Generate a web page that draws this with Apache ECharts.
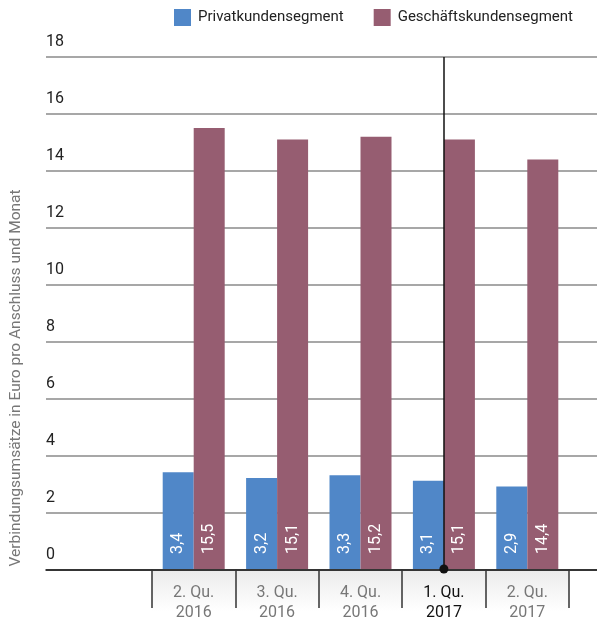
<!DOCTYPE html>
<html lang="de">
<head>
<meta charset="UTF-8">
<title>Verbindungsumsätze</title>
<script src="https://cdn.jsdelivr.net/npm/echarts@6/dist/echarts.min.js"></script>
<style>
  html, body { margin: 0; padding: 0; background: #fff; }
  #chart { width: 597px; height: 623px; }
</style>
</head>
<body>
<div id="chart"></div>
<script>
// Daten
var quartale = ['2. Qu.\n2016', '3. Qu.\n2016', '4. Qu.\n2016', '1. Qu.\n2017', '2. Qu.\n2017'];
var privatkunden = [3.4, 3.2, 3.3, 3.1, 2.9];
var geschaeftskunden = [15.5, 15.1, 15.2, 15.1, 14.4];
var markiert = '1. Qu.\n2017';

var schrift = 'Roboto, sans-serif';
var blau = '#5087c8';
var lila = '#965d71';

var chart = echarts.init(document.getElementById('chart'));

function wertLabel(p) {
  return String(p.value).replace('.', ',');
}

var barLabel = {
  show: true,
  position: 'insideBottom',
  rotate: 90,
  align: 'left',
  verticalAlign: 'middle',
  distance: 15,
  color: '#fff',
  fontFamily: schrift,
  fontSize: 16,
  formatter: wertLabel
};

chart.setOption({
  animation: false,
  textStyle: { fontFamily: schrift },
  legend: {
    data: ['Privatkundensegment', 'Geschäftskundensegment'],
    top: 4,
    left: 169,
    itemWidth: 17,
    itemHeight: 17,
    itemGap: 30,
    icon: 'rect',
    textStyle: { fontSize: 15, color: '#222', fontFamily: schrift, padding: [0, 0, 0, 2] }
  },
  graphic: [
    {
      type: 'rect',
      shape: { x: 152, y: 571, width: 417, height: 40 },
      style: {
        fill: new echarts.graphic.LinearGradient(0, 0, 0, 1, [
          { offset: 0, color: '#ececec' },
          { offset: 1, color: '#ffffff' }
        ])
      },
      z: -1
    },
    {
      type: 'text',
      x: 16,
      y: 378,
      rotation: Math.PI / 2,
      style: {
        text: 'Verbindungsumsätze in Euro pro Anschluss und Monat',
        fontFamily: schrift,
        fontSize: 15.5,
        fill: '#777',
        align: 'center',
        verticalAlign: 'middle'
      }
    }
  ],
  grid: [
    { left: 46, right: 0, top: 57, bottom: 53 },
    { left: 152, right: 28, top: 57, bottom: 53 }
  ],
  xAxis: [
    {
      type: 'value', gridIndex: 0, min: 0, max: 1,
      axisLine: { show: true, onZero: false, lineStyle: { color: '#111', width: 1.5 } },
      axisTick: { show: false }, axisLabel: { show: false }, splitLine: { show: false }
    },
    {
      type: 'category', gridIndex: 1, data: quartale,
      axisLine: { show: false },
      axisTick: { show: true, length: 39, lineStyle: { color: '#333', width: 1.5 } },
      axisLabel: {
        interval: 0,
        margin: 14,
        fontSize: 16,
        lineHeight: 20,
        color: '#777',
        formatter: function (v) {
          var stil = v === markiert ? 'hl' : 'n';
          return v.split('\n').map(function (z) { return '{' + stil + '|' + z + '}'; }).join('\n');
        },
        rich: {
          n: { color: '#777', fontSize: 16, lineHeight: 20, fontFamily: schrift },
          hl: { color: '#111', fontSize: 16, lineHeight: 20, fontFamily: schrift }
        }
      }
    }
  ],
  yAxis: [
    {
      type: 'value', gridIndex: 0, min: 0, max: 18, interval: 2,
      axisLine: { show: false }, axisTick: { show: false },
      axisLabel: {
        inside: true, margin: 0, verticalAlign: 'bottom', padding: [0, 0, 7, 0],
        fontSize: 16, color: '#222', fontFamily: schrift
      },
      splitLine: { lineStyle: { color: '#8a8a8a', width: 1.5 } }
    },
    {
      type: 'value', gridIndex: 1, min: 0, max: 18, interval: 2,
      axisLine: { show: false }, axisTick: { show: false },
      axisLabel: { show: false }, splitLine: { show: false }
    }
  ],
  series: [
    {
      name: 'Privatkundensegment', type: 'bar', xAxisIndex: 1, yAxisIndex: 1,
      data: privatkunden, barWidth: 31, barGap: '0%',
      itemStyle: { color: blau },
      label: barLabel
    },
    {
      name: 'Geschäftskundensegment', type: 'bar', xAxisIndex: 1, yAxisIndex: 1,
      data: geschaeftskunden, barWidth: 31,
      itemStyle: { color: lila },
      label: barLabel
    },
    {
      name: 'markierung', type: 'line', xAxisIndex: 1, yAxisIndex: 1,
      data: [], z: 10,
      markLine: {
        silent: true,
        symbol: ['circle', 'none'],
        symbolSize: 9,
        label: { show: false },
        lineStyle: { color: '#111', width: 1.5, type: 'solid' },
        data: [[{ coord: [markiert, 0] }, { coord: [markiert, 18] }]]
      }
    }
  ]
});
</script>
</body>
</html>
